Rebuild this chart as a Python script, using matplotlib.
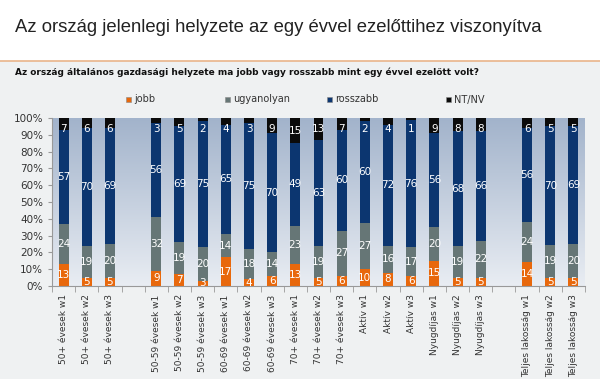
import numpy as np
import matplotlib
matplotlib.use('Agg')
from matplotlib import pyplot as plt
from matplotlib.patches import Rectangle

#### Datos
csoportok = ['50+ évesek w1', '50+ évesek w2', '50+ évesek w3', '',
             '50-59 évesek w1', '50-59 évesek w2', '50-59 évesek w3',
             '60-69 évesek w1', '60-69 évesek w2', '60-69 évesek w3',
             '70+ évesek w1', '70+ évesek w2', '70+ évesek w3',
             'Aktív w1', 'Aktív w2', 'Aktív w3',
             'Nyugdíjas w1', 'Nyugdíjas w2', 'Nyugdíjas w3', '',
             'Teljes lakosság w1', 'Teljes lakosság w2', 'Teljes lakosság w3']

jobb       = [13, 5, 5, 0, 9, 7, 3, 17, 4, 6, 13, 5, 6, 10, 8, 6, 15, 5, 5, 0, 14, 5, 5]
ugyanolyan = [24, 19, 20, 0, 32, 19, 20, 14, 18, 14, 23, 19, 27, 27, 16, 17, 20, 19, 22, 0, 24, 19, 20]
rosszabb   = [57, 70, 69, 0, 56, 69, 75, 65, 75, 70, 49, 63, 60, 60, 72, 76, 56, 68, 66, 0, 56, 70, 69]
ntnv       = [7, 6, 6, 0, 3, 5, 2, 4, 3, 9, 15, 13, 7, 2, 4, 1, 9, 8, 8, 0, 6, 5, 5]

sorozat = ['jobb', 'ugyanolyan', 'rosszabb', 'NT/NV']
szinek = ['#e8680c', '#667676', '#0c3670', '#0b0b0b']

adat = np.array([jobb, ugyanolyan, rosszabb, ntnv], dtype=float)
osszeg = adat.sum(axis=0)
szazalek = np.divide(adat * 100, osszeg, out=np.zeros_like(adat), where=osszeg > 0)

fig = plt.figure(figsize=(6, 3.79), dpi=100)
fig.patch.set_facecolor('white')

# háttér: fehér fejléc, szürke alsó rész, narancs vonal
bg = fig.add_axes([0, 0, 1, 1], zorder=-10)
bg.set_xlim(0, 1)
bg.set_ylim(0, 1)
bg.set_xticks([])
bg.set_yticks([])
for s in bg.spines.values():
    s.set_visible(False)
vonal = 1 - 61/379
bg.add_patch(Rectangle((0, 0), 1, vonal, facecolor='#eff1f2', edgecolor='none'))
bg.axhline(vonal, color='#e9b48a', lw=1.2)

fig.text(15/600, 1 - 27/379, 'Az ország jelenlegi helyzete az egy évvel ezelőttihez viszonyítva',
         fontsize=13.3, color='#222222', va='center', ha='left', family='Liberation Sans')
fig.text(15/600, 1 - 72/379, 'Az ország általános gazdasági helyzete ma jobb vagy rosszabb mint egy évvel ezelőtt volt?',
         fontsize=6.5, fontweight='bold', color='#111111', va='center', ha='left')

# jelmagyarázat
leg_x = [126, 225, 327, 446]
for x, nev, c in zip(leg_x, sorozat, szinek):
    bg.add_patch(Rectangle((x/600, 1 - 102/379), 5/600, 5/379,
                           facecolor=c, edgecolor='#888888', lw=0.4))
    fig.text((x + 8)/600, 1 - 99.5/379, nev, fontsize=7, color='#333333', va='center', ha='left')

ax = fig.add_axes([52/600, 1 - 286/379, 533/600, 168/379])
n = len(csoportok)
x = np.arange(n)
ax.set_xlim(-0.5, n - 0.5)
ax.set_ylim(0, 100)

# színátmenetes háttér
grad = np.linspace(0, 1, 256).reshape(-1, 1)
cmap = matplotlib.colors.LinearSegmentedColormap.from_list('bg', ['#e9edf3', '#a2b3cb'])
ax.imshow(grad, aspect='auto', cmap=cmap, extent=(-0.5, n - 0.5, 0, 100), origin='lower', zorder=0)

alap = np.zeros(n)
for i in range(4):
    ax.bar(x, szazalek[i], bottom=alap, width=0.43, color=szinek[i], zorder=2,
           edgecolor='none')
    for j in range(n):
        if adat[i, j] <= 0:
            continue
        if i == 3:
            y = 100 - max(szazalek[i, j] / 2, 6.5)
        else:
            y = alap[j] + szazalek[i, j] / 2
        ax.text(x[j], y, '%d' % adat[i, j], color='white', fontsize=7.5,
                ha='center', va='center', zorder=3)
    alap = alap + szazalek[i]

ax.set_yticks(np.arange(0, 101, 10))
ax.set_yticklabels(['%d%%' % v for v in range(0, 101, 10)], fontsize=7.5, color='#333333')
ax.set_xticks(x)
ax.set_xticklabels(csoportok, rotation=90, fontsize=6.5, color='#333333')
ax.tick_params(axis='x', length=0, pad=6)
ax.set_xticks(np.arange(-0.5, n, 1), minor=True)
ax.tick_params(axis='x', which='minor', length=4, color='#999999')
ax.tick_params(axis='y', length=3, color='#999999')
for s in ['top', 'right']:
    ax.spines[s].set_visible(False)
ax.spines['left'].set_color('#999999')
ax.spines['bottom'].set_color('#999999')

plt.savefig('out.png', dpi=100, facecolor=fig.get_facecolor())
